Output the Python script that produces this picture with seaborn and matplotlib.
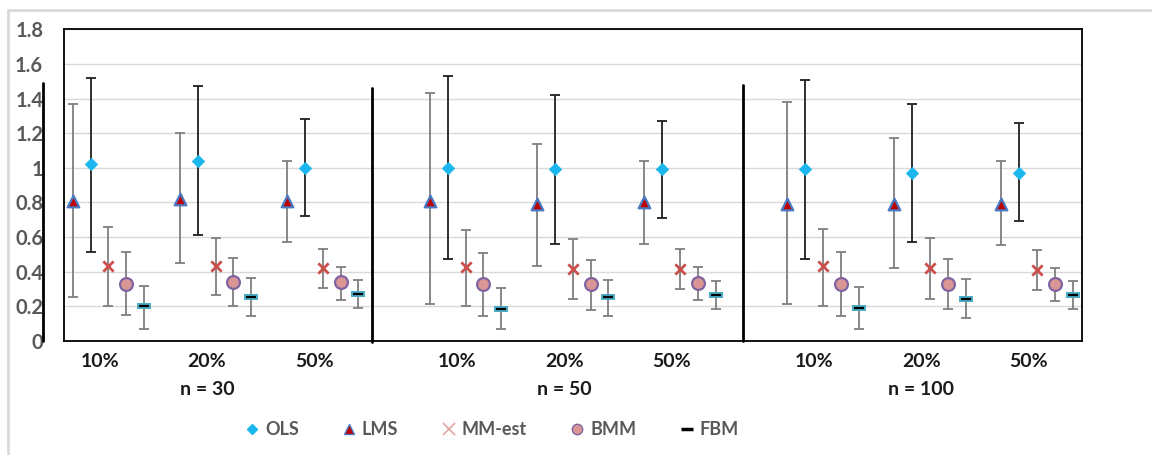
import numpy as np
import pandas as pd
import matplotlib.pyplot as plt
from matplotlib.lines import Line2D
import seaborn as sns

# groups on the x axis
sizes = ["n = 30", "n = 50", "n = 100"]
contam = ["10%", "20%", "50%"]

# point estimates and interval ends, 9 values each (n=30, n=50, n=100 x 10/20/50%)
ols = [1.02, 1.04, 1.00, 1.00, 0.99, 0.99, 0.99, 0.97, 0.97]
ols_lo = [0.51, 0.61, 0.72, 0.47, 0.56, 0.71, 0.47, 0.57, 0.69]
ols_hi = [1.52, 1.47, 1.28, 1.53, 1.42, 1.27, 1.51, 1.37, 1.26]

lms = [0.81, 0.82, 0.81, 0.81, 0.79, 0.80, 0.79, 0.79, 0.79]
lms_lo = [0.25, 0.45, 0.57, 0.21, 0.43, 0.56, 0.21, 0.42, 0.555]
lms_hi = [1.37, 1.20, 1.04, 1.43, 1.14, 1.04, 1.38, 1.17, 1.04]

mm = [0.43, 0.43, 0.42, 0.425, 0.415, 0.415, 0.43, 0.42, 0.41]
mm_lo = [0.20, 0.265, 0.305, 0.20, 0.24, 0.30, 0.20, 0.24, 0.295]
mm_hi = [0.66, 0.595, 0.53, 0.64, 0.59, 0.53, 0.645, 0.595, 0.525]

bmm = [0.33, 0.34, 0.34, 0.325, 0.325, 0.335, 0.33, 0.33, 0.325]
bmm_lo = [0.15, 0.20, 0.235, 0.145, 0.18, 0.235, 0.145, 0.185, 0.23]
bmm_hi = [0.51, 0.48, 0.425, 0.505, 0.465, 0.425, 0.51, 0.47, 0.42]

fbm = [0.20, 0.255, 0.27, 0.185, 0.25, 0.265, 0.19, 0.24, 0.265]
fbm_lo = [0.07, 0.145, 0.19, 0.07, 0.14, 0.185, 0.07, 0.13, 0.185]
fbm_hi = [0.315, 0.36, 0.35, 0.305, 0.35, 0.345, 0.31, 0.355, 0.345]

series = {"LMS": (lms, lms_lo, lms_hi), "OLS": (ols, ols_lo, ols_hi),
          "MM-est": (mm, mm_lo, mm_hi), "BMM": (bmm, bmm_lo, bmm_hi),
          "FBM": (fbm, fbm_lo, fbm_hi)}
rows = []
for j, (name, (m, lo, hi)) in enumerate(series.items()):
    for i in range(9):
        rows.append(dict(method=name, slot=j, block=i // 3, grp=i % 3,
                         value=m[i], lo=lo[i], hi=hi[i]))
df = pd.DataFrame(rows)

gap = 1 / 3
step = 0.167
df["center"] = df["block"] * (3 + gap) + df["grp"]
df["x"] = df["center"] + (df["slot"] - 2) * step

sns.set_theme(style="white")
plt.rcParams["font.family"] = ["Lato", "DejaVu Sans"]

fig = plt.figure(figsize=(11.52, 4.55), dpi=100)
ax = fig.add_axes([0.0556, 0.2512, 0.8834, 0.6842])

styles = {
    "OLS": dict(marker="D", s=40, color="#1ab6ee", edgecolor="#1ab6ee", linewidth=0.5),
    "LMS": dict(marker="^", s=70, color="#c00000", edgecolor="#4a78c2", linewidth=1.6),
    "MM-est": dict(marker="x", s=55, color="#c9504b", linewidth=2.0),
    "BMM": dict(marker="o", s=85, color="#d99694", edgecolor="#8064a2", linewidth=1.6),
}
bar_col = {"OLS": "#1f1f1f", "LMS": "#7f7f7f", "MM-est": "#7f7f7f",
           "BMM": "#7f7f7f", "FBM": "#7f7f7f"}

for name in series:
    d = df[df.method == name]
    ax.errorbar(d.x, d.value, yerr=[d.value - d.lo, d.hi - d.value], fmt="none",
                ecolor=bar_col[name], elinewidth=1.3, capsize=3.4, capthick=1.3, zorder=2)

for name, st in styles.items():
    d = df[df.method == name]
    sns.scatterplot(data=d, x="x", y="value", ax=ax, legend=False, zorder=3, **st)

# FBM: black dash on a cyan box
d = df[df.method == "FBM"]
rect = [(-1, -0.45), (1, -0.45), (1, 0.45), (-1, 0.45)]
sns.scatterplot(data=d, x="x", y="value", ax=ax, legend=False, marker=rect, s=110,
                color="#4bacc6", edgecolor="#4bacc6", linewidth=0, zorder=3)
sns.scatterplot(data=d, x="x", y="value", ax=ax, legend=False, marker="_", s=52,
                color="black", linewidth=1.6, zorder=4)

ax.set_xlim(-0.414, 9.084)
ax.set_ylim(0, 1.8)
ax.set_yticks(np.arange(0, 1.81, 0.2))
ax.set_yticklabels([f"{v:g}" for v in np.arange(0, 1.81, 0.2)], fontsize=14.5,
                   fontweight="bold", color="#595959")
ax.tick_params(axis="y", length=0, pad=15)
ax.grid(axis="y", color="#d9d9d9", linewidth=1)
ax.set_axisbelow(True)
for sp in ax.spines.values():
    sp.set_color("black")
    sp.set_linewidth(1.3)
ax.set_xlabel("")
ax.set_ylabel("")

centers = sorted(df["center"].unique())
ax.set_xticks([c - 0.08 for c in centers])
ax.set_xticklabels(contam * 3, fontsize=14, fontweight="bold", color="#1a1a1a")
ax.tick_params(axis="x", length=0, pad=9)
for b, lab in enumerate(sizes):
    ax.text(b * (3 + gap) + 1 - 0.08, -0.285, lab, ha="center", va="center",
            fontsize=14, fontweight="bold", color="#1a1a1a")

# hand drawn separators
ax.plot([-0.613, -0.613], [0, 1.49], color="black", lw=2, clip_on=False)
ax.plot([2.461, 2.461], [-0.01, 1.46], color="black", lw=2, clip_on=False)
ax.plot([5.919, 5.919], [0, 1.48], color="black", lw=2, clip_on=False)

handles = [
    Line2D([], [], ls="none", marker="D", ms=5.5, color="#1ab6ee"),
    Line2D([], [], ls="none", marker="^", ms=7, mfc="#c00000", mec="#4a78c2", mew=1),
    Line2D([], [], ls="none", marker="x", ms=9, color="#e3a5a3", mew=1.2),
    Line2D([], [], ls="none", marker="o", ms=7.5, mfc="#d99694", mec="#8064a2", mew=1),
    Line2D([], [], ls="none", marker="_", ms=8, color="black", mew=2.5),
]
fig.legend(handles, ["OLS", "LMS", "MM-est", "BMM", "FBM"], loc="center left",
           bbox_to_anchor=(0.2127, 0.055), ncol=5, frameon=False,
           handlelength=0.8, handletextpad=0.3, columnspacing=2.4, borderpad=0,
           borderaxespad=0, labelcolor="#595959", prop={"weight": "bold", "size": 13})

# outer chart border
fig.add_artist(Line2D([8 / 1152, 1], [1 - 10 / 455] * 2, color="#d9d9d9", lw=2,
                      transform=fig.transFigure))
fig.add_artist(Line2D([8 / 1152] * 2, [0, 1 - 10 / 455], color="#d9d9d9", lw=2,
                      transform=fig.transFigure))

fig.savefig("out.png", dpi=100)
